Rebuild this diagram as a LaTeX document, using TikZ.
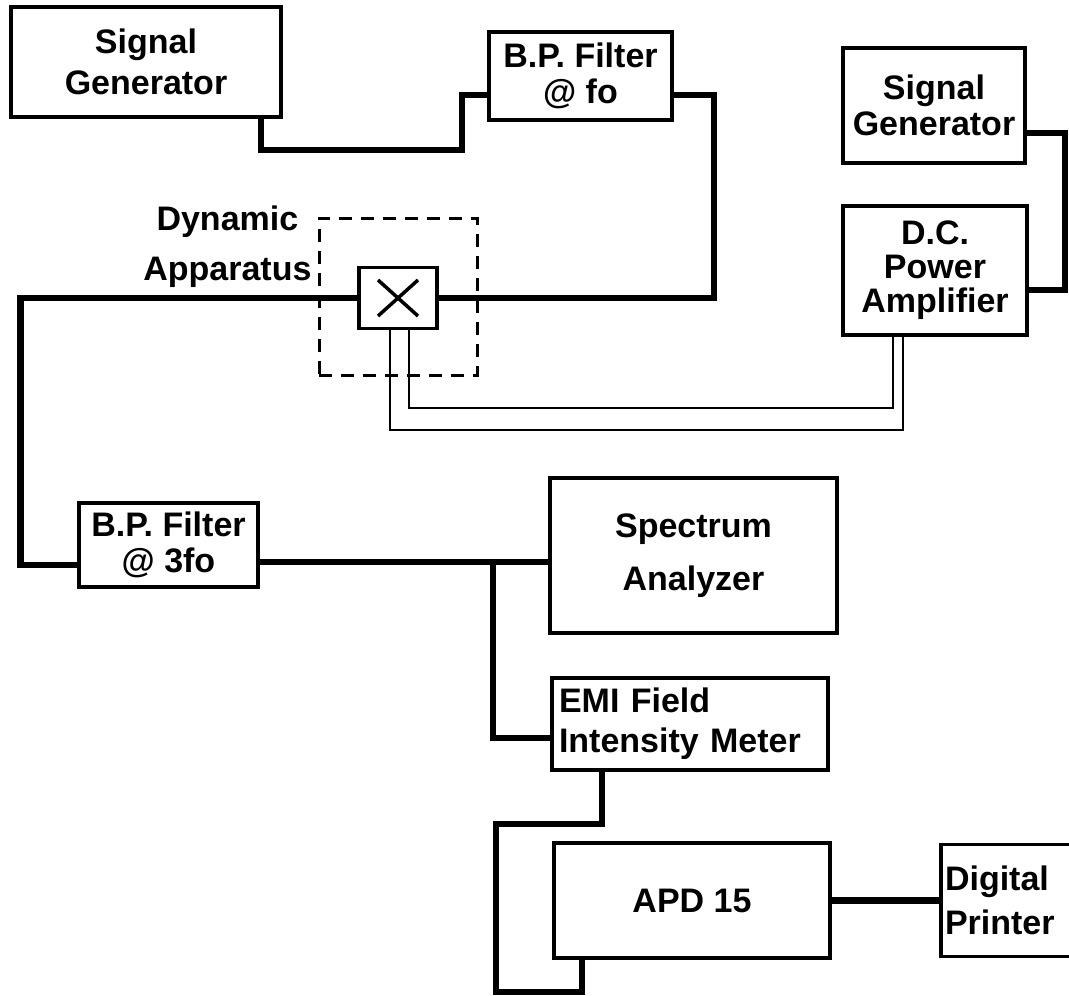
\documentclass[tikz,border=0pt]{standalone}
\usepackage{fontspec}
\setmainfont{Liberation Sans}
\usetikzlibrary{positioning,calc}
\begin{document}
\begin{tikzpicture}[x=1pt,y=-1pt,
    blk/.style={draw,line width=3.5pt,align=center,inner sep=0pt,font=\bfseries\fontsize{34}{36}\selectfont},
    wire/.style={line width=6.5pt},
    lead/.style={line width=2pt},
    encl/.style={draw,line width=3pt,dash pattern=on 13pt off 9pt,inner sep=0pt}]
        \useasboundingbox (0,0) rectangle (1069,996);
        \node[blk,minimum width=270,minimum height=110,font=\bfseries\fontsize{34}{41}\selectfont] (sga) at (146,62) {Signal\\Generator};
        \node[blk,minimum width=183,minimum height=88] (bpfa) at (580.5,76) {B.P. Filter\\@ fo};
        \node[blk,minimum width=182,minimum height=115] (sgb) at (934,105.5) {Signal\\Generator};
        \node[blk,minimum width=184,minimum height=129,font=\bfseries\fontsize{34}{34}\selectfont] (dca) at (935,270.5) {D.C.\\Power\\Amplifier};
        \node[encl,minimum width=158,minimum height=157] (app) at (398,296.5) {};
        \node[blk,minimum width=78,minimum height=61] (mix) at (398,298) {};
        \draw[line width=3.5pt] ($(mix.center)+(-20,-18)$) -- ($(mix.center)+(20,18)$) ($(mix.center)+(-20,18)$) -- ($(mix.center)+(20,-18)$);
        \node[align=center,anchor=east,font=\bfseries\fontsize{34}{50}\selectfont] (applbl) at (315,247) {Dynamic\\Apparatus};
        \node[blk,minimum width=179,minimum height=84] (bpfb) at (168.5,545) {B.P. Filter\\@ 3fo};
        \node[blk,minimum width=287,minimum height=155,font=\bfseries\fontsize{34}{53}\selectfont] (spec) at (693.5,555.5) {Spectrum\\Analyzer};
        \node[blk,minimum width=276,minimum height=92,align=left,text width=262,inner xsep=7pt,font=\bfseries\fontsize{34}{40}\selectfont] (emi) at (690,724) {EMI Field\\Intensity Meter};
        \node[blk,minimum width=276,minimum height=115] (apd) at (692,900.5) {APD 15};
        \node[blk,minimum width=150,minimum height=112,align=left,text width=142,inner xsep=4pt,font=\bfseries\fontsize{34}{44}\selectfont] (dig) at (1016,900.5) {Digital\\Printer};
        \coordinate (tap) at (493,562);
        \draw[wire] ([xshift=115pt]sga.south) -- ++(0,31) -| (462,95) -- ([yshift=-19pt]bpfa.west);
        \draw[wire] ([yshift=-19pt]bpfa.east) -- ++(40,0) |- (mix.east);
        \draw[wire] (mix.west) -| ([xshift=-57pt,yshift=-20pt]bpfb.west) -- ([yshift=-20pt]bpfb.west);
        \draw[wire] ([yshift=-17pt]bpfb.east) -- ([yshift=-6.5pt]spec.west);
        \draw[wire] (tap) |- ([yshift=-14pt]emi.west);
        \draw[wire] ([xshift=-88pt]emi.south) -- ++(0,52) -| (496,992) -| ([xshift=-110pt]apd.south);
        \draw[wire] (apd.east) -- (dig.west);
        \draw[wire] ([yshift=-27.5pt]sgb.east) -- ++(38,0) |- ([yshift=-19.5pt]dca.east);
        \draw[lead] ([xshift=-8pt]mix.south) -- ++(0,100) -| ([xshift=-32pt]dca.south);
        \draw[lead] ([xshift=11pt]mix.south) -- ++(0,78) -| ([xshift=-42pt]dca.south);
      \end{tikzpicture}
\end{document}
